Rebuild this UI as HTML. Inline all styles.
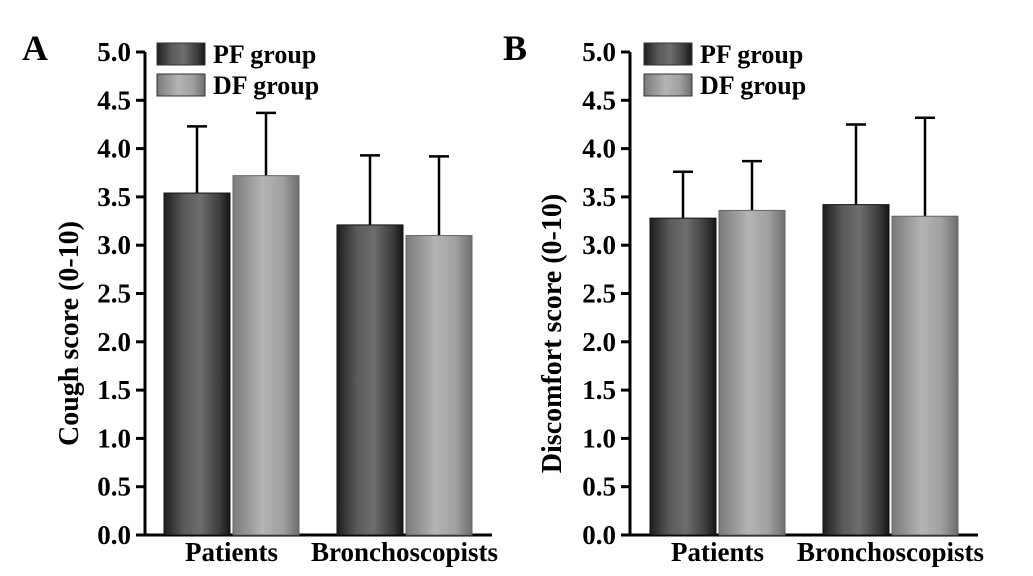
<!DOCTYPE html>
<html><head><meta charset="utf-8"><style>
html,body{margin:0;padding:0;background:#fff;}
svg{display:block;}
svg text{font-family:"Liberation Serif","DejaVu Serif",serif;font-weight:bold;}
</style></head><body>
<svg id="fig" width="1033" height="576" viewBox="0 0 1033 576" xmlns="http://www.w3.org/2000/svg">
<defs>
<linearGradient id="gPF" x1="0" x2="1" y1="0" y2="0">
<stop offset="0" stop-color="#1e1e1e"/><stop offset="0.3" stop-color="#5a5a5a"/><stop offset="0.55" stop-color="#6e6e6e"/><stop offset="0.85" stop-color="#3a3a3a"/><stop offset="1" stop-color="#151515"/>
</linearGradient>
<linearGradient id="gDF" x1="0" x2="1" y1="0" y2="0">
<stop offset="0" stop-color="#7a7a7a"/><stop offset="0.45" stop-color="#b4b4b4"/><stop offset="0.75" stop-color="#a0a0a0"/><stop offset="1" stop-color="#6e6e6e"/>
</linearGradient>
</defs>
</svg>
<script>
const categories = ["Patients", "Bronchoscopists"];
const seriesNames = ["PF group", "DF group"];
const cough_PF = [3.54, 3.21];
const cough_DF = [3.72, 3.10];
const cough_PF_err = [4.23, 3.93];
const cough_DF_err = [4.37, 3.92];
const disc_PF = [3.28, 3.42];
const disc_DF = [3.36, 3.30];
const disc_PF_err = [3.76, 4.25];
const disc_DF_err = [3.87, 4.32];
const yTicks = ["0.0","0.5","1.0","1.5","2.0","2.5","3.0","3.5","4.0","4.5","5.0"];

const NS = "http://www.w3.org/2000/svg";
const svg = document.getElementById("fig");
function mk(tag, attrs, parent, text){
  const e = document.createElementNS(NS, tag);
  for (const k in attrs) e.setAttribute(k, attrs[k]);
  if (text !== undefined) e.textContent = text;
  (parent||svg).appendChild(e);
  return e;
}
const Y0 = 535, Y1 = 52, YMAX = 5;
function yS(v){ return Y0 - (Y0 - Y1) * v / YMAX; }

function panel(cfg){
  const g = mk("g", {});
  
  
  const ax = cfg.axisX;
  const L = mk("text", {x: cfg.letterX, y: 60, "font-size": 36}, g, cfg.letter);
  
  
  const ya = mk("line", {x1: ax, x2: ax, y1: Y1, y2: Y0 + 1.5, stroke: "#000", "stroke-width": 3}, g);
  
  
  yTicks.forEach(t => {
    const y = yS(parseFloat(t));
    mk("line", {x1: ax - 9, x2: ax, y1: y, y2: y, stroke: "#000", "stroke-width": 3}, g);
    const tl = mk("text", {x: ax - 14, y: y + 9, "font-size": 27, "text-anchor": "end"}, g, t);
    
    
  });
  const yt = mk("text", {x: 0, y: 0, "font-size": 28, "text-anchor": "middle", transform: `translate(${cfg.titleX},${(Y0+Y1)/2+40}) rotate(-90)`}, g, cfg.title);
  
  
  const xa = mk("line", {x1: ax - 1.5, x2: cfg.axisEnd, y1: Y0, y2: Y0, stroke: "#000", "stroke-width": 3}, g);
  
  
  const bw = 66;
  const series = [[cfg.pf, cfg.pfErr, "url(#gPF)"], [cfg.df, cfg.dfErr, "url(#gDF)"]];
  categories.forEach((c, i) => {
    series.forEach((s, j) => {
      const x = cfg.groupX[i] + j * 69;
      const top = yS(s[0][i]);
      const et = yS(s[1][i]);
      const cx = x + bw / 2;
      const eb = mk("line", {x1: cx, x2: cx, y1: et, y2: top, stroke: "#000", "stroke-width": 2.5}, g);
      
      
      mk("line", {x1: cx - 10, x2: cx + 10, y1: et, y2: et, stroke: "#000", "stroke-width": 2.5}, g);
      const r = mk("rect", {x: x, y: top, width: bw, height: Y0 - top, fill: s[2], stroke: j ? "#666" : "#111", "stroke-width": 1}, g);
      
      
    });
    const cl = mk("text", {x: cfg.groupX[i] + 67.5, y: 561, "font-size": 27, "text-anchor": "middle"}, g, c);
    
    
  });
  seriesNames.forEach((n, j) => {
    const ly = 43 + j * 31;
    const sw = mk("rect", {x: cfg.legX, y: ly, width: 48, height: 22, fill: j ? "url(#gDF)" : "url(#gPF)", stroke: "#333", "stroke-width": 1}, g);
    
    
    const lt = mk("text", {x: cfg.legX + 56, y: ly + 20, "font-size": 26}, g, n);
    
    
  });
}

panel({name: "cough-chart", letter: "A", letterX: 22, axisX: 145, axisEnd: 492, titleX: 78,
  title: "Cough score (0-10)", groupX: [164, 337], legX: 157,
  pf: cough_PF, df: cough_DF, pfErr: cough_PF_err, dfErr: cough_DF_err});
panel({name: "discomfort-chart", letter: "B", letterX: 503, axisX: 630, axisEnd: 978, titleX: 561,
  title: "Discomfort score (0-10)", groupX: [650, 823], legX: 644,
  pf: disc_PF, df: disc_DF, pfErr: disc_PF_err, dfErr: disc_DF_err});
</script>
</body></html>
